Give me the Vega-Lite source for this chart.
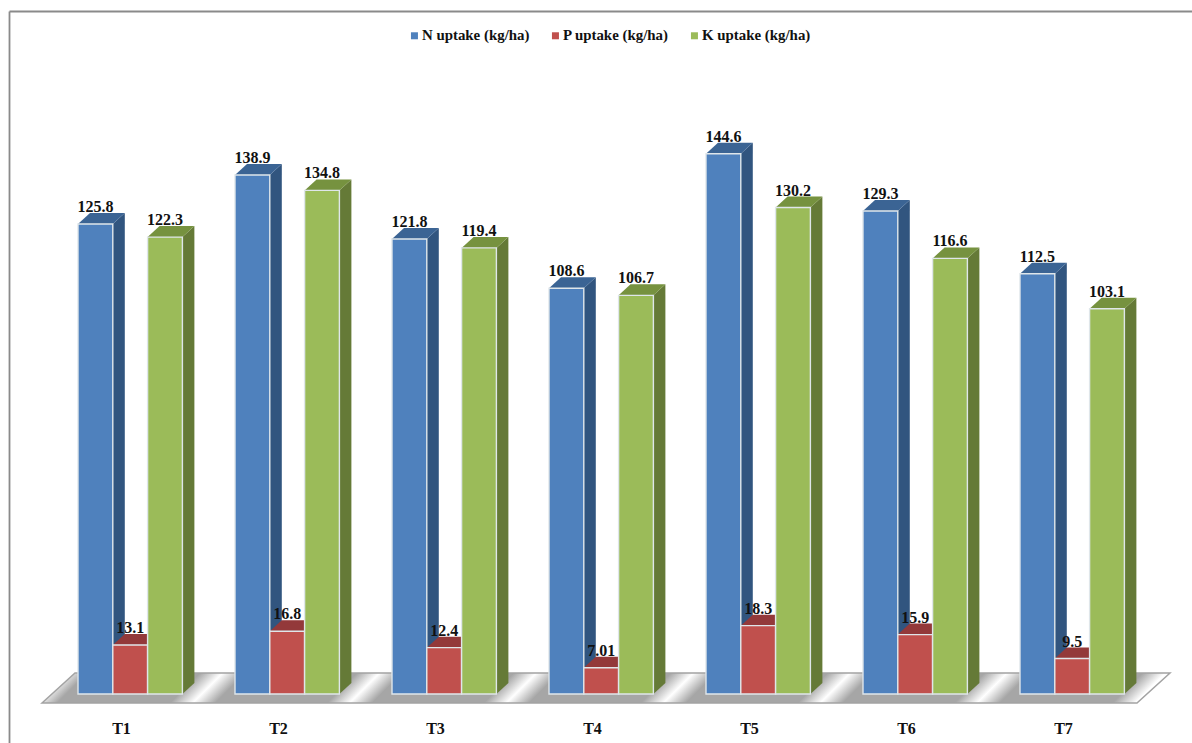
{
  "$schema": "https://vega.github.io/schema/vega-lite/v6.json",
  "width": 1192,
  "height": 694,
  "padding": {"left": 0, "top": 0, "right": 0, "bottom": 49},
  "autosize": {"type": "none"},
  "background": "white",
  "config": {
    "view": {"stroke": null},
    "axis": {"grid": false, "domain": false, "ticks": false, "title": null}
  },
  "data": {
    "values": [
      {"treatment": "T1", "series": "N uptake (kg/ha)", "value": 125.8},
      {"treatment": "T1", "series": "P uptake (kg/ha)", "value": 13.1},
      {"treatment": "T1", "series": "K uptake (kg/ha)", "value": 122.3},
      {"treatment": "T2", "series": "N uptake (kg/ha)", "value": 138.9},
      {"treatment": "T2", "series": "P uptake (kg/ha)", "value": 16.8},
      {"treatment": "T2", "series": "K uptake (kg/ha)", "value": 134.8},
      {"treatment": "T3", "series": "N uptake (kg/ha)", "value": 121.8},
      {"treatment": "T3", "series": "P uptake (kg/ha)", "value": 12.4},
      {"treatment": "T3", "series": "K uptake (kg/ha)", "value": 119.4},
      {"treatment": "T4", "series": "N uptake (kg/ha)", "value": 108.6},
      {"treatment": "T4", "series": "P uptake (kg/ha)", "value": 7.01},
      {"treatment": "T4", "series": "K uptake (kg/ha)", "value": 106.7},
      {"treatment": "T5", "series": "N uptake (kg/ha)", "value": 144.6},
      {"treatment": "T5", "series": "P uptake (kg/ha)", "value": 18.3},
      {"treatment": "T5", "series": "K uptake (kg/ha)", "value": 130.2},
      {"treatment": "T6", "series": "N uptake (kg/ha)", "value": 129.3},
      {"treatment": "T6", "series": "P uptake (kg/ha)", "value": 15.9},
      {"treatment": "T6", "series": "K uptake (kg/ha)", "value": 116.6},
      {"treatment": "T7", "series": "N uptake (kg/ha)", "value": 112.5},
      {"treatment": "T7", "series": "P uptake (kg/ha)", "value": 9.5},
      {"treatment": "T7", "series": "K uptake (kg/ha)", "value": 103.1}
    ]
  },
  "transform": [
    {"calculate": "toNumber(substring(datum.treatment, 1))", "as": "group"},
    {"calculate": "indexof(['N uptake (kg/ha)', 'P uptake (kg/ha)', 'K uptake (kg/ha)'], datum.series)", "as": "slot"},
    {"calculate": "datum.group + (datum.slot * 34.8 - 43) / 157", "as": "left"},
    {"calculate": "datum.left + 34.8 / 157", "as": "right"},
    {"calculate": "(datum.left + datum.right) / 2", "as": "middle"},
    {"calculate": "'' + datum.value", "as": "valueText"}
  ],
  "layer": [
    {
      "data": {
        "values": [
          {"px": 0.4968, "upper": -2.41, "lower": -2.41},
          {"px": 0.7070, "upper": 5.62, "lower": -2.41},
          {"px": 7.4713, "upper": 5.62, "lower": -2.41},
          {"px": 7.6815, "upper": 5.62, "lower": 5.62}
        ]
      },
      "mark": {
        "type": "area",
        "stroke": "#a3a3a3",
        "strokeWidth": 1.5,
        "fill": {
          "gradient": "linear",
          "x1": 0, "y1": 0, "x2": 1, "y2": 0.0266,
          "stops": [
            {"offset": 0, "color": "#f8f8f8"},
            {"offset": 0.02, "color": "#ffffff"},
            {"offset": 0.04, "color": "#a6a6a6"},
            {"offset": 0.14, "color": "#a6a6a6"},
            {"offset": 0.16, "color": "#ffffff"},
            {"offset": 0.18, "color": "#a6a6a6"},
            {"offset": 0.279, "color": "#a6a6a6"},
            {"offset": 0.299, "color": "#ffffff"},
            {"offset": 0.319, "color": "#a6a6a6"},
            {"offset": 0.418, "color": "#a6a6a6"},
            {"offset": 0.438, "color": "#ffffff"},
            {"offset": 0.458, "color": "#a6a6a6"},
            {"offset": 0.557, "color": "#a6a6a6"},
            {"offset": 0.577, "color": "#ffffff"},
            {"offset": 0.597, "color": "#a6a6a6"},
            {"offset": 0.696, "color": "#a6a6a6"},
            {"offset": 0.716, "color": "#ffffff"},
            {"offset": 0.736, "color": "#a6a6a6"},
            {"offset": 0.835, "color": "#a6a6a6"},
            {"offset": 0.855, "color": "#ffffff"},
            {"offset": 0.875, "color": "#a6a6a6"},
            {"offset": 0.975, "color": "#a6a6a6"},
            {"offset": 0.995, "color": "#ffffff"},
            {"offset": 1, "color": "#ffffff"}
          ]
        }
      },
      "encoding": {
        "x": {
          "field": "px", "type": "quantitative",
          "scale": {"domain": [0.2293, 7.8217], "nice": false, "zero": false},
          "axis": {
            "values": [1, 2, 3, 4, 5, 6, 7],
            "labelExpr": "'T' + datum.value",
            "labelFont": "Liberation Serif",
            "labelFontWeight": "bold",
            "labelFontSize": 16,
            "labelColor": "#111111",
            "labelPadding": 26
          }
        },
        "y": {
          "field": "upper", "type": "quantitative",
          "scale": {"domain": [0, 185.76], "nice": false, "zero": false},
          "axis": null
        },
        "y2": {"field": "lower"}
      }
    },
    {
      "data": {
        "values": [
          {"px": 0.2898, "px2": 0.2898, "py": -13.1, "py2": 182.68},
          {"px": 0.2898, "px2": 7.8217, "py": 182.68, "py2": 182.68}
        ]
      },
      "mark": {"type": "rule", "color": "#8a8a8a", "strokeWidth": 1.8},
      "encoding": {
        "x": {"field": "px", "type": "quantitative"},
        "x2": {"field": "px2"},
        "y": {"field": "py", "type": "quantitative", "axis": null},
        "y2": {"field": "py2"}
      }
    },
    {
      "transform": [
        {"calculate": "[datum.right, datum.right + 0.0764]", "as": "px"},
        {"calculate": "[datum.value, datum.value + 2.944]", "as": "upper"},
        {"calculate": "[0, 2.944]", "as": "lower"},
        {"flatten": ["px", "upper", "lower"]}
      ],
      "mark": {"type": "area", "orient": "vertical"},
      "encoding": {
        "x": {"field": "px", "type": "quantitative"},
        "y": {"field": "upper", "type": "quantitative", "axis": null},
        "y2": {"field": "lower"},
        "detail": {"field": "treatment"},
        "color": {
          "field": "series", "type": "nominal", "legend": null,
          "scale": {
            "domain": ["N uptake (kg/ha)", "P uptake (kg/ha)", "K uptake (kg/ha)"],
            "range": ["#31557f", "#8a3533", "#657a37"]
          }
        }
      }
    },
    {
      "transform": [
        {"calculate": "[datum.left, datum.left + 0.0764, datum.right, datum.right + 0.0764]", "as": "px"},
        {"calculate": "[datum.value, datum.value + 2.944, datum.value + 2.944, datum.value + 2.944]", "as": "upper"},
        {"calculate": "[datum.value, datum.value, datum.value, datum.value + 2.944]", "as": "lower"},
        {"flatten": ["px", "upper", "lower"]}
      ],
      "mark": {"type": "area", "orient": "vertical"},
      "encoding": {
        "x": {"field": "px", "type": "quantitative"},
        "y": {"field": "upper", "type": "quantitative", "axis": null},
        "y2": {"field": "lower"},
        "detail": {"field": "treatment"},
        "color": {
          "field": "series", "type": "nominal", "legend": null,
          "scale": {
            "domain": ["N uptake (kg/ha)", "P uptake (kg/ha)", "K uptake (kg/ha)"],
            "range": ["#3b6494", "#93393a", "#76923f"]
          }
        }
      }
    },
    {
      "mark": {"type": "rect", "stroke": "#dfe6ea", "strokeWidth": 1.4},
      "encoding": {
        "x": {"field": "left", "type": "quantitative"},
        "x2": {"field": "right"},
        "y": {"field": "value", "type": "quantitative", "axis": null},
        "y2": {"datum": 0},
        "color": {
          "field": "series", "type": "nominal",
          "scale": {
            "domain": ["N uptake (kg/ha)", "P uptake (kg/ha)", "K uptake (kg/ha)"],
            "range": ["#4f81bd", "#c0504d", "#9bbb59"]
          },
          "legend": {
            "orient": "none",
            "legendX": 407,
            "legendY": 28,
            "direction": "horizontal",
            "title": null,
            "symbolType": "square",
            "symbolSize": 49,
            "symbolStrokeWidth": 0,
            "labelFont": "Liberation Serif",
            "labelFontWeight": "bold",
            "labelFontSize": 14.9,
            "labelColor": "#111111",
            "labelOffset": 0,
            "columnPadding": 18
          }
        }
      }
    },
    {
      "transform": [
        {"calculate": "datum.value + 2.944", "as": "labelY"}
      ],
      "mark": {
        "type": "text",
        "font": "Liberation Serif",
        "fontWeight": "bold",
        "fontSize": 16,
        "color": "#111111",
        "baseline": "alphabetic",
        "dy": -1
      },
      "encoding": {
        "x": {"field": "middle", "type": "quantitative"},
        "y": {"field": "labelY", "type": "quantitative", "axis": null},
        "text": {"field": "valueText"}
      }
    }
  ],
  "resolve": {"scale": {"color": "independent"}}
}
